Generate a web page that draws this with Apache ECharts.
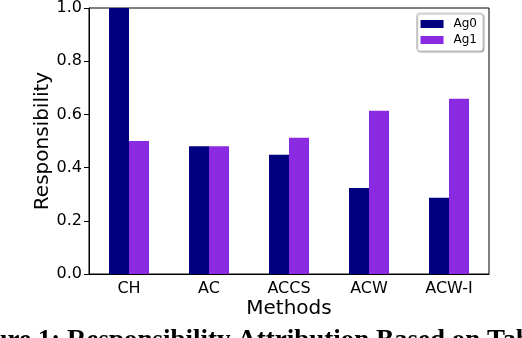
<!DOCTYPE html>
<html>
<head>
<meta charset="utf-8">
<script src="https://cdn.jsdelivr.net/npm/echarts@6/dist/echarts.min.js"></script>
<style>
  html, body { margin: 0; padding: 0; background: #fff; }
  #chart { width: 522px; height: 338px; }
</style>
</head>
<body>
<div id="chart"></div>
<script>
// data
const methods = ["CH", "AC", "ACCS", "ACW", "ACW-I"];
const ag0 = [1.0, 0.48, 0.448, 0.323, 0.287];
const ag1 = [0.5, 0.48, 0.512, 0.614, 0.659];
const yTicks = [0, 0.2, 0.4, 0.6, 0.8, 1.0];

const font = "DejaVu Sans";
const myChart = echarts.init(document.getElementById("chart"));

const option = {
  animation: false,
  backgroundColor: "#fff",
  grid: {
    left: 89,
    right: 33,
    top: 7,
    bottom: 64,
    show: true,
    borderColor: "#000",
    borderWidth: 1,
  },
  legend: {
    data: ["Ag0", "Ag1"],
    orient: "vertical",
    right: 39,
    top: 13,
    icon: "rect",
    itemWidth: 23,
    itemHeight: 8,
    itemGap: 4,
    padding: [5, 6, 5, 4],
    borderColor: "#ccc",
    borderWidth: 1,
    borderRadius: 3,
    backgroundColor: "#fff",
    shadowColor: "rgba(0,0,0,0.3)",
    shadowBlur: 1,
    shadowOffsetX: 1,
    shadowOffsetY: 1,
    textStyle: { fontFamily: font, fontSize: 12, color: "#000", padding: [0, 0, 0, 5] },
  },
  xAxis: {
    type: "category",
    data: methods,
    name: "Methods",
    nameLocation: "middle",
    nameGap: 25,
    nameMoveOverlap: false,
    nameTextStyle: { fontFamily: font, fontSize: 20, color: "#000" },
    axisLine: { lineStyle: { color: "#000", width: 1 } },
    axisTick: { alignWithLabel: true, length: 5, lineStyle: { color: "#000" } },
    axisLabel: { fontFamily: font, fontSize: 16, color: "#000", margin: 7 },
    splitLine: { show: false },
  },
  yAxis: {
    type: "value",
    min: yTicks[0],
    max: yTicks[yTicks.length - 1],
    interval: 0.2,
    name: "Responsibility",
    nameLocation: "middle",
    nameGap: 36,
    nameMoveOverlap: false,
    nameRotate: 90,
    nameTextStyle: { fontFamily: font, fontSize: 20, color: "#000" },
    axisLine: { show: true, lineStyle: { color: "#000", width: 1 } },
    axisTick: { show: true, length: 5, lineStyle: { color: "#000" } },
    axisLabel: {
      fontFamily: font,
      fontSize: 16,
      color: "#000",
      margin: 7,
      formatter: function (v) {
        return v.toFixed(1);
      },
    },
    splitLine: { show: false },
  },
  series: [
    {
      name: "Ag0",
      type: "bar",
      data: ag0,
      barWidth: 20,
      barGap: "0%",
      itemStyle: { color: "#000080" },
    },
    {
      name: "Ag1",
      type: "bar",
      data: ag1,
      barWidth: 20,
      barGap: "0%",
      itemStyle: { color: "#8a2be2" },
    },
  ],
  graphic: [
    {
      type: "text",
      left: -45,
      top: 328,
      style: {
        text: "Figure 1: Responsibility Attribution Based on Table 1",
        fontFamily: "Liberation Serif",
        fontWeight: "bold",
        fontSize: 27,
        fill: "#000",
      },
    },
  ],
};

option && myChart.setOption(option);
</script>
</body>
</html>
